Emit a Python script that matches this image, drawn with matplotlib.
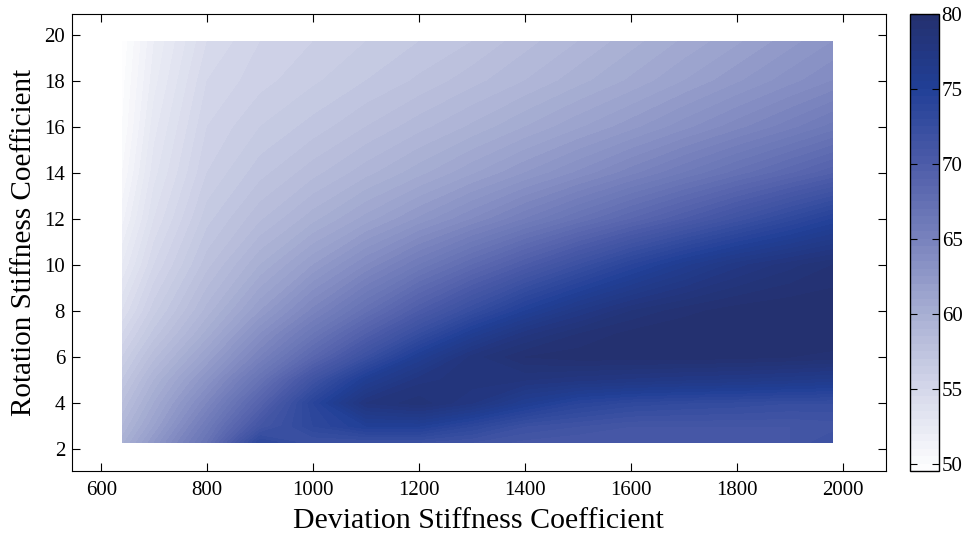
import matplotlib
matplotlib.use("Agg")
import matplotlib.pyplot as plt
import numpy as np
from matplotlib.colors import LinearSegmentedColormap

# grid of the sweep
deviation = [640, 700, 800, 900, 1000, 1100, 1200, 1300, 1400, 1500, 1600, 1700, 1800, 1900, 1980]
rotation = [2.3, 3, 4, 5, 6, 7, 8, 10, 12, 14, 16, 18, 19.7]

# response value, one row per rotation coefficient
response = [
    [59.8, 62.5, 67.0, 73.5, 72.0, 72.0, 72.0, 71.5, 70.8, 70.5, 70.5, 70.5, 70.8, 71.0, 72.0],
    [59.0, 61.5, 66.0, 71.0, 73.5, 75.0, 75.0, 73.5, 72.0, 71.5, 71.0, 71.0, 71.0, 71.0, 71.2],
    [58.0, 60.5, 64.5, 69.0, 74.0, 78.0, 78.8, 77.5, 75.5, 74.0, 73.3, 73.0, 72.8, 72.5, 72.5],
    [57.0, 59.5, 63.0, 67.0, 71.5, 75.5, 77.8, 78.3, 78.0, 77.6, 77.3, 77.0, 76.8, 76.5, 76.2],
    [56.0, 58.3, 61.5, 65.0, 68.5, 72.0, 75.5, 78.2, 79.5, 79.8, 79.8, 79.8, 79.7, 79.5, 79.3],
    [55.0, 57.2, 60.2, 63.5, 66.5, 69.5, 72.5, 75.5, 77.8, 79.0, 79.7, 80.0, 80.0, 80.0, 80.0],
    [54.0, 56.3, 59.2, 62.0, 64.7, 67.3, 70.0, 72.5, 75.0, 77.0, 78.5, 79.3, 79.8, 80.0, 80.0],
    [52.5, 55.0, 57.8, 60.0, 62.0, 64.0, 66.0, 68.0, 70.0, 72.0, 74.0, 75.8, 77.3, 78.3, 79.0],
    [51.3, 54.0, 56.8, 58.4, 59.8, 61.2, 62.6, 64.0, 65.5, 67.0, 68.5, 70.0, 71.6, 73.2, 74.5],
    [50.5, 53.3, 56.0, 57.3, 58.3, 59.3, 60.3, 61.4, 62.5, 63.6, 64.8, 66.0, 67.2, 68.4, 69.4],
    [50.0, 52.8, 55.5, 56.5, 57.2, 58.0, 58.8, 59.6, 60.5, 61.4, 62.3, 63.3, 64.3, 65.3, 66.2],
    [49.8, 52.3, 55.0, 55.8, 56.4, 57.0, 57.6, 58.3, 59.0, 59.8, 60.6, 61.5, 62.4, 63.3, 64.0],
    [49.6, 52.0, 54.5, 55.5, 56.0, 56.5, 57.0, 57.5, 58.3, 59.0, 59.8, 60.6, 61.4, 62.3, 63.0],
]

plt.rcParams['font.family'] = ['Liberation Serif', 'DejaVu Serif']

# white -> lavender -> blue -> navy
vmin, vmax = 49.5, 80
stops = [(49.5, '#ffffff'), (55, '#d4d7ea'), (60, '#a8afd3'), (65, '#7882bd'),
         (70, '#4d5ca9'), (75, '#213f97'), (80, '#24306e')]
cmap = LinearSegmentedColormap.from_list(
    'blues', [((v - vmin) / (vmax - vmin), c) for v, c in stops])

fig = plt.figure(figsize=(9.67, 5.48), dpi=100)
ax = fig.add_axes([0.0745, 0.1405, 0.8415, 0.834])
cax = fig.add_axes([0.941, 0.1405, 0.030, 0.834])

X, Y = np.meshgrid(deviation, rotation)
Z = np.array(response)
levels = np.linspace(vmin, vmax, 62)
cs = ax.contourf(X, Y, Z, levels=levels, cmap=cmap, vmin=vmin, vmax=vmax)

ax.set_xlim(545, 2080)
ax.set_ylim(1.05, 20.9)
ax.set_xticks(np.arange(600, 2001, 200))
ax.set_yticks(np.arange(2, 21, 2))
ax.tick_params(direction='in', top=True, right=True, length=6, labelsize=15)
ax.tick_params(axis='x', pad=7)
ax.tick_params(axis='y', pad=5)
ax.set_xlabel('Deviation Stiffness Coefficient', fontsize=21.5, labelpad=6)
ax.set_ylabel('Rotation Stiffness Coefficient', fontsize=21, labelpad=5)

cb = fig.colorbar(cs, cax=cax, ticks=[50, 55, 60, 65, 70, 75, 80])
cb.ax.tick_params(direction='in', left=True, right=True, length=5, labelsize=15, pad=2)
cb.outline.set_linewidth(1.0)

fig.savefig('out.png', dpi=100)
